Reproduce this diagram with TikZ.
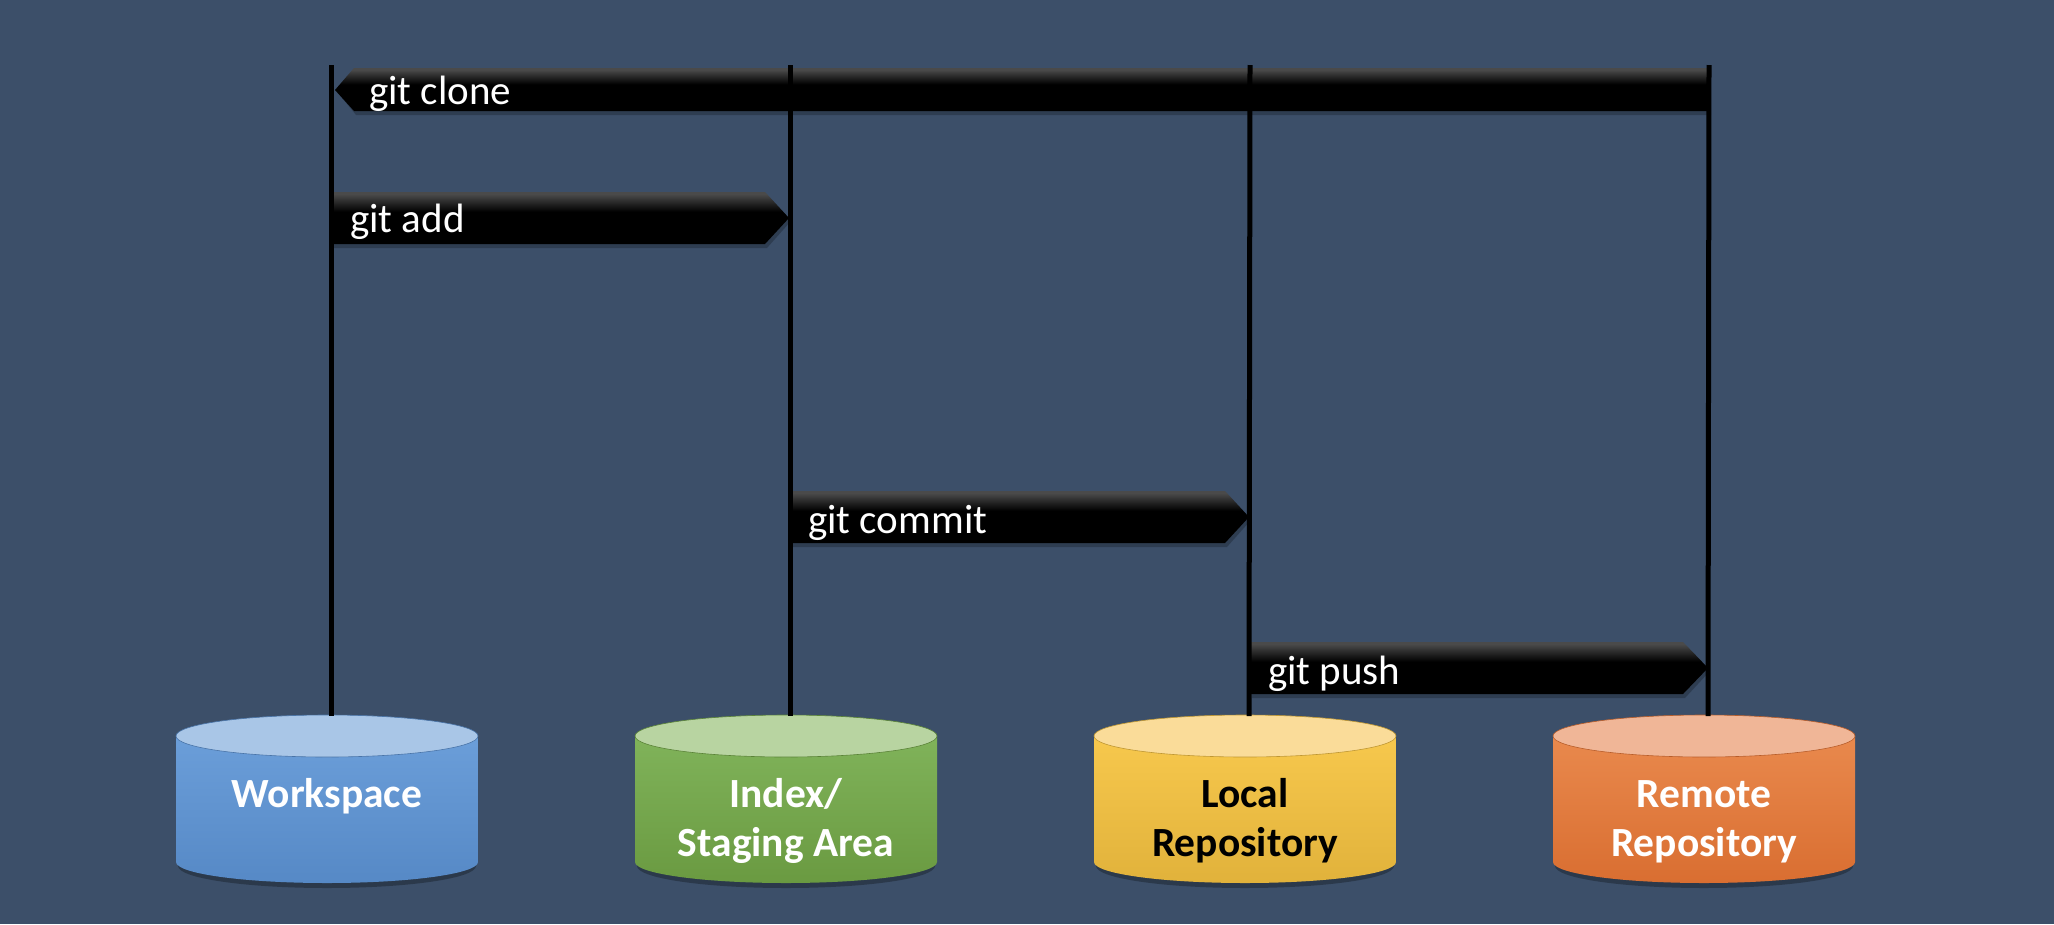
\documentclass[tikz,border=0pt]{standalone}
\usepackage{fontspec}
\setmainfont{Carlito}
\definecolor{bg}{HTML}{3C4F69}
\definecolor{arrowtop}{HTML}{4A4A4A}
\definecolor{wsTop}{HTML}{A9C6E7}\definecolor{wsA}{HTML}{6B9ED9}\definecolor{wsB}{HTML}{5689C6}
\definecolor{ixTop}{HTML}{B8D4A1}\definecolor{ixA}{HTML}{80B35A}\definecolor{ixB}{HTML}{6A9A41}
\definecolor{lrTop}{HTML}{FADC99}\definecolor{lrA}{HTML}{F7C84D}\definecolor{lrB}{HTML}{E1B23B}
\definecolor{rrTop}{HTML}{F0B697}\definecolor{rrA}{HTML}{E9894D}\definecolor{rrB}{HTML}{D96E31}
\pgfdeclareverticalshading{arrowshade}{100bp}{color(0bp)=(black); color(25bp)=(black); color(56bp)=(black); color(73bp)=(arrowtop); color(100bp)=(arrowtop)}
\tikzset{
  arrowbody/.style={shading=arrowshade},
  arrowshadow/.style={fill=black, opacity=0.22},
  cmdlabel/.style={text=white, font=\fontsize{41}{48}\selectfont, anchor=base west, inner sep=0pt},
  cyllabel/.style={font=\fontsize{41.5}{49}\selectfont\bfseries, align=center, anchor=north, inner sep=0pt, text height=30pt, text depth=10pt},
  vline/.style={line width=5pt, black}
}
% #1 name, #2 centre x, #3 body top colour, #4 body bottom colour, #5 lid colour, #6 text colour, #7 label y, #8 label
\newcommand\gitcyl[8]{%
  \fill[black, opacity=0.28] (#2-149,866) arc[start angle=180, end angle=0, x radius=149, y radius=22] -- (#2+149,856) -- (#2-149,856) -- cycle;
  \path[top color=#3, bottom color=#4] (#2-151,736) -- (#2-151,862) arc[start angle=180, end angle=0, x radius=151, y radius=21] -- (#2+151,736) -- cycle;
  \filldraw[fill=#5, draw=#4!85!black, line width=0.6pt] (#2,736) ellipse[x radius=151, y radius=21];
  \coordinate (#1-top) at (#2+4,716);
  \node[cyllabel, text=#6, name=#1] at (#2,#7) {#8};
}
\begin{document}
\begin{tikzpicture}[x=1pt, y=-1pt]
\fill[bg] (0,0) rectangle (2054,924);
\useasboundingbox (0,0) rectangle (2054,924);
% cylinders
\gitcyl{ws}{327}{wsA}{wsB}{wsTop}{white}{777}{Workspace}
\gitcyl{ix}{786}{ixA}{ixB}{ixTop}{white}{826}{Index/\\Staging Area}
\gitcyl{lr}{1245}{lrA}{lrB}{lrTop}{black}{826}{Local\\Repository}
\gitcyl{rr}{1704}{rrA}{rrB}{rrTop}{white}{826}{Remote\\Repository}
% line tops
\coordinate (wsT) at (331,65);
\coordinate (ixT) at (790,65);
\coordinate (lrT) at (1250,65);
\coordinate (rrT) at (1709,65);
% arrows
\fill[arrowshadow] (338,93) -- (356,71) -- (1711,71) -- (1711,115) -- (356,115) -- cycle;
\path[arrowbody] (335,90) -- (354,68) -- (1709,68) -- (1709,111) -- (354,111) -- cycle;
\fill[arrowshadow] (333,195) -- (767,195) -- (791,221) -- (767,248) -- (333,248) -- cycle;
\path[arrowbody] (331,192) -- (765,192) -- (789,218) -- (765,244) -- (331,244) -- cycle;
\fill[arrowshadow] (792,494) -- (1227,494) -- (1251,520) -- (1227,547) -- (792,547) -- cycle;
\path[arrowbody] (790,491) -- (1225,491) -- (1249,517) -- (1225,543) -- (790,543) -- cycle;
\fill[arrowshadow] (1252,645) -- (1685,645) -- (1710,671) -- (1685,698) -- (1252,698) -- cycle;
\path[arrowbody] (1250,642) -- (1683,642) -- (1708,668) -- (1683,694) -- (1250,694) -- cycle;
% vertical lines
\draw[vline] (wsT) -- (ws-top);
\draw[vline] (ixT) -- (ix-top);
\draw[vline] (lrT) -- (lr-top);
\draw[vline] (rrT) -- (rr-top);
% labels
\node[cmdlabel, name=clone] at (369,104) {git clone};
\node[cmdlabel, name=add] at (350,232) {git add};
\node[cmdlabel, name=commit] at (808,533) {git commit};
\node[cmdlabel, name=push] at (1268,684) {git push};
\end{tikzpicture}
\end{document}
